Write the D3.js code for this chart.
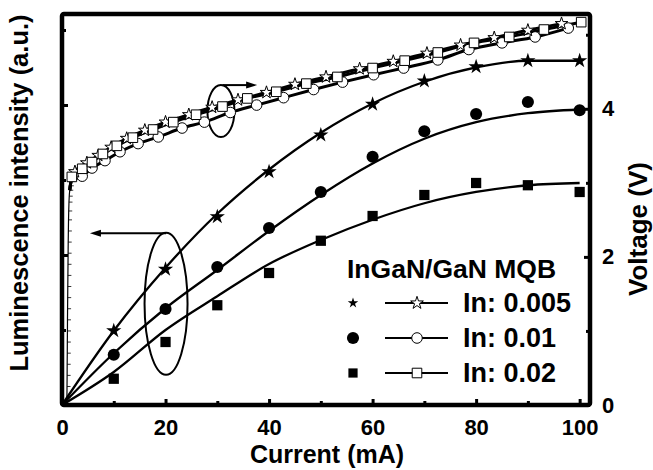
<!DOCTYPE html>
<html>
<head>
<meta charset="utf-8">
<script src="https://cdn.jsdelivr.net/npm/d3@7"></script>
<style>
  body { margin: 0; background: #fff; }
  text { font-family: "Liberation Sans", Arial, sans-serif; font-weight: bold; fill: #000; }
</style>
</head>
<body>
<div id="chart"></div>
<script>

// Data
// ==============================
var seriesNames = ["In: 0.005", "In: 0.01", "In: 0.02"];
var legendTitle = "InGaN/GaN MQB";

// luminescence points (left axis, a.u.)
var lumCurrent = [10, 20, 30, 40, 50, 60, 70, 80, 90, 100];
var lumStar = [0.99, 1.81, 2.51, 3.11, 3.60, 4.01, 4.32, 4.51, 4.59, 4.59];
var lumCircle = [0.67, 1.28, 1.84, 2.36, 2.84, 3.31, 3.65, 3.88, 4.04, 3.93];
var lumSquare = [0.35, 0.84, 1.33, 1.76, 2.19, 2.52, 2.80, 2.96, 2.93, 2.84];

// fitted luminescence lines
var fitCurrent = [0, 10, 20, 30, 40, 50, 60, 70, 80, 90, 100];
var fitStar = [0, 0.99, 1.83, 2.55, 3.14, 3.63, 4.02, 4.31, 4.50, 4.59, 4.59];
var fitCircle = [0, 0.69, 1.29, 1.80, 2.32, 2.80, 3.22, 3.55, 3.77, 3.89, 3.94];
var fitSquare = [0, 0.44, 1.00, 1.45, 1.88, 2.20, 2.47, 2.69, 2.84, 2.93, 2.96];

// voltage turn-on (shared by the three samples)
var riseCurrent = [0.95, 0.97, 0.99, 1.00, 1.02, 1.03, 1.05, 1.06, 1.08, 1.10, 1.12, 1.14,
  1.16, 1.18, 1.20, 1.23, 1.26, 1.30, 1.35, 1.40, 1.50, 1.60, 1.75];
var riseVoltage = [0.10, 0.25, 0.40, 0.55, 0.70, 0.85, 1.00, 1.15, 1.30, 1.45, 1.60, 1.75,
  1.90, 2.05, 2.20, 2.35, 2.50, 2.62, 2.74, 2.82, 2.90, 2.96, 3.02];

// voltage points (right axis, V)
var vStarCurrent = [2.5, 4.8, 7.0, 9.5, 12.5, 16, 20, 24.5, 29, 34, 39.5, 45, 51, 57.5, 64, 70.5, 77, 83.5, 90, 96.5];
var vStar = [3.15, 3.27, 3.37, 3.48, 3.60, 3.71, 3.82, 3.92, 4.02, 4.12, 4.22, 4.33, 4.43, 4.54, 4.64, 4.75, 4.86, 4.96, 5.06, 5.15];
var vCircleCurrent = [3.9, 5.8, 8.3, 11.2, 14.7, 18.6, 23.2, 27.5, 32.5, 37.6, 42.8, 48.6, 54.2, 60.2, 66.0, 72.6, 78.6, 85.0, 91.4, 97.8];
var vCircle = [3.09, 3.20, 3.30, 3.42, 3.53, 3.62, 3.74, 3.82, 3.95, 4.05, 4.15, 4.26, 4.36, 4.46, 4.55, 4.66, 4.80, 4.89, 4.97, 5.09];
var vSquareCurrent = [1.9, 3.9, 5.8, 7.9, 10.6, 13.7, 17.6, 21.5, 25.9, 31.0, 35.8, 41.4, 47.2, 53.2, 60.0, 66.2, 72.6, 79.6, 86.4, 93.1, 100.3];
var vSquare = [3.08, 3.19, 3.28, 3.39, 3.50, 3.61, 3.72, 3.82, 3.92, 4.03, 4.14, 4.23, 4.34, 4.43, 4.55, 4.65, 4.76, 4.89, 4.97, 5.07, 5.17];

var xTicks = [0, 20, 40, 60, 80, 100];
var xMinorTicks = [10, 30, 50, 70, 90];
var vTicks = [0, 2, 4];
var vMinorTicks = [1, 3, 5];
var lumTicks = [2, 4];
var lumMinorTicks = [1, 3, 5];

// Set chart parameters
// ==============================
var svgWidth = 653;
var svgHeight = 470;

var margin = { top: 14, right: 63, bottom: 65, left: 62 };
var width = svgWidth - margin.left - margin.right;
var height = svgHeight - margin.top - margin.bottom;

var svg = d3.select("#chart")
  .append("svg")
  .attr("width", svgWidth)
  .attr("height", svgHeight);

var chartGroup = svg.append("g")
  .attr("transform", `translate(${margin.left}, ${margin.top})`);

// Scales
// ==============================
var xScale = d3.scaleLinear().domain([0, 102]).range([0, width]);
var yLum = d3.scaleLinear().domain([0, 5.213]).range([height, 0]);
var yVolt = d3.scaleLinear().domain([0, 5.28]).range([height, 0]);

function zip(xs, ys) {
  return xs.map(function(x, i) { return { x: x, y: ys[i] }; });
}

// Annotations: ellipses and arrows
// ==============================
function ellipse(cx, cy, rx, ry) {
  chartGroup.append("ellipse")
    .attr("cx", cx).attr("cy", cy).attr("rx", rx).attr("ry", ry)
    .attr("fill", "none").attr("stroke", "#000").attr("stroke-width", 2);
}
function arrow(x1, x2, y, dir) {
  chartGroup.append("line")
    .attr("x1", x1).attr("x2", x2 - dir * 6).attr("y1", y).attr("y2", y)
    .attr("stroke", "#000").attr("stroke-width", 2);
  chartGroup.append("path")
    .attr("d", `M${x2},${y} L${x2 - dir * 11},${y - 3.5} L${x2 - dir * 11},${y + 3.5} Z`)
    .attr("fill", "#000");
}

ellipse(xScale(30.7), yVolt(3.97), 13.5, 26);
arrow(xScale(31), xScale(37.7), yVolt(4.32), 1);
ellipse(xScale(20.1), yLum(1.35), 21.5, 71);
arrow(xScale(20.1), xScale(5.4), yLum(2.29), -1);

// Luminescence fit lines and points
// ==============================
var fitLine = d3.line()
  .x(d => xScale(d.x))
  .y(d => yLum(d.y))
  .curve(d3.curveMonotoneX);

[fitStar, fitCircle, fitSquare].forEach(function(fit) {
  chartGroup.append("path")
    .datum(zip(fitCurrent, fit))
    .attr("d", fitLine)
    .attr("fill", "none")
    .attr("stroke", "#000")
    .attr("stroke-width", 2.3);
});

var filledSymbols = [
  d3.symbol().type(d3.symbolStar).size(72),
  d3.symbol().type(d3.symbolCircle).size(115),
  d3.symbol().type(d3.symbolSquare).size(105)
];
var openSymbols = [
  d3.symbol().type(d3.symbolStar).size(50),
  d3.symbol().type(d3.symbolCircle).size(88),
  d3.symbol().type(d3.symbolSquare).size(92)
];

[lumStar, lumCircle, lumSquare].forEach(function(vals, k) {
  chartGroup.selectAll(null)
    .data(zip(lumCurrent, vals))
    .enter()
    .append("path")
    .attr("d", filledSymbols[k])
    .attr("transform", d => `translate(${xScale(d.x)}, ${yLum(d.y)})`)
    .attr("fill", "#000");
});

// Voltage curves (open markers)
// ==============================
var voltLine = d3.line()
  .x(d => xScale(d.x))
  .y(d => yVolt(d.y))
  .curve(d3.curveMonotoneX);

var riseData = zip(riseCurrent, riseVoltage);

chartGroup.append("path")
  .datum([{ x: 0.9, y: 0 }].concat(riseData))
  .attr("d", voltLine)
  .attr("fill", "none")
  .attr("stroke", "#000")
  .attr("stroke-width", 1.2);

chartGroup.selectAll(null)
  .data(riseData)
  .enter()
  .append("line")
  .attr("x1", d => xScale(d.x))
  .attr("x2", d => xScale(d.x) + 3.5)
  .attr("y1", d => yVolt(d.y))
  .attr("y2", d => yVolt(d.y))
  .attr("stroke", "#000")
  .attr("stroke-width", 0.8);

// draw order: circles, stars, squares on top
var voltSets = [
  { k: 1, xs: vCircleCurrent, ys: vCircle },
  { k: 0, xs: vStarCurrent, ys: vStar },
  { k: 2, xs: vSquareCurrent, ys: vSquare }
];

voltSets.forEach(function(s) {
  var pts = zip(s.xs, s.ys);
  chartGroup.append("path")
    .datum(riseData.slice(-3).concat(pts))
    .attr("d", voltLine)
    .attr("fill", "none")
    .attr("stroke", "#000")
    .attr("stroke-width", 3);
});

voltSets.forEach(function(s) {
  chartGroup.selectAll(null)
    .data(zip(s.xs, s.ys))
    .enter()
    .append("path")
    .attr("d", openSymbols[s.k])
    .attr("transform", d => `translate(${xScale(d.x)}, ${yVolt(d.y)})`)
    .attr("fill", "#fff")
    .attr("stroke", "#000")
    .attr("stroke-width", 1);
});

// Frame and ticks
// ==============================
chartGroup.append("rect")
  .attr("x", 0).attr("y", 0)
  .attr("width", width).attr("height", height)
  .attr("fill", "none")
  .attr("stroke", "#000")
  .attr("stroke-width", 4.5)
  .attr("rx", 2);

var bottomAxis = d3.axisBottom(xScale).tickValues(xTicks).tickSize(-6).tickPadding(14).tickFormat(d3.format("d"));
var bottomMinor = d3.axisBottom(xScale).tickValues(xMinorTicks).tickSize(-4).tickFormat("");
var rightAxis = d3.axisRight(yVolt).tickValues(vTicks).tickSize(-6).tickPadding(12).tickFormat(d3.format("d"));
var rightMinor = d3.axisRight(yVolt).tickValues(vMinorTicks).tickSize(-4).tickFormat("");
var leftAxis = d3.axisLeft(yLum).tickValues(lumTicks).tickSize(-6).tickFormat("");
var leftMinor = d3.axisLeft(yLum).tickValues(lumMinorTicks).tickSize(-4).tickFormat("");

function styleAxis(g) {
  g.select(".domain").remove();
  g.selectAll(".tick line").attr("stroke", "#000").attr("stroke-width", 3);
  g.selectAll(".tick text").style("font-size", "22px").attr("fill", "#000");
}

chartGroup.append("g").attr("transform", `translate(0, ${height})`).call(bottomAxis).call(styleAxis);
chartGroup.append("g").attr("transform", `translate(0, ${height})`).call(bottomMinor).call(styleAxis);
chartGroup.append("g").attr("transform", `translate(${width}, 0)`).call(rightAxis).call(styleAxis);
chartGroup.append("g").attr("transform", `translate(${width}, 0)`).call(rightMinor).call(styleAxis);
chartGroup.append("g").call(leftAxis).call(styleAxis);
chartGroup.append("g").call(leftMinor).call(styleAxis);

// Legend
// ==============================
var legend = svg.append("g");
legend.append("text")
  .attr("x", 347).attr("y", 278)
  .style("font-size", "26.5px")
  .text(legendTitle);

var legendRows = [303, 338, 373];
seriesNames.forEach(function(name, k) {
  var y = legendRows[k];
  var filled = k === 0 ? d3.symbol().type(d3.symbolStar).size(34) : (k === 1 ? filledSymbols[1] : d3.symbol().type(d3.symbolSquare).size(85));
  legend.append("path")
    .attr("d", filled)
    .attr("transform", `translate(353, ${y})`)
    .attr("fill", "#000");
  legend.append("line")
    .attr("x1", 385).attr("x2", 448).attr("y1", y).attr("y2", y)
    .attr("stroke", "#000").attr("stroke-width", 2.2);
  legend.append("path")
    .attr("d", openSymbols[k])
    .attr("transform", `translate(417, ${y})`)
    .attr("fill", "#fff").attr("stroke", "#000").attr("stroke-width", 1);
  legend.append("text")
    .attr("x", 463).attr("y", y + 9)
    .style("font-size", "27px")
    .text(name);
});

// Axis labels
// ==============================
svg.append("text")
  .attr("x", 327).attr("y", 463)
  .attr("text-anchor", "middle")
  .style("font-size", "25px")
  .text("Current (mA)");

svg.append("text")
  .attr("transform", "translate(28, 193) rotate(-90)")
  .attr("text-anchor", "middle")
  .style("font-size", "25.5px")
  .text("Luminescence intensity (a.u.)");

svg.append("text")
  .attr("transform", "translate(647, 229) rotate(-90)")
  .attr("text-anchor", "middle")
  .style("font-size", "26px")
  .text("Voltage (V)");

</script>
</body>
</html>
